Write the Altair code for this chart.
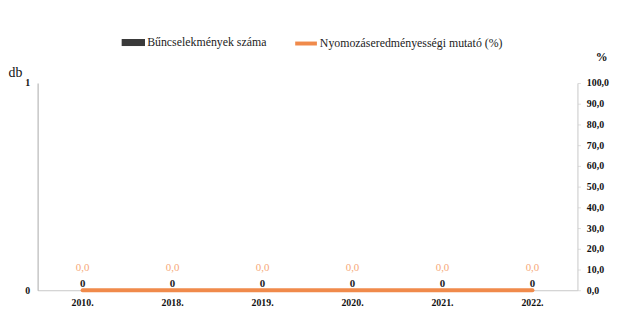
import altair as alt
import pandas as pd

years = ["2010.", "2018.", "2019.", "2020.", "2021.", "2022."]
crimes = [0, 0, 0, 0, 0, 0]
rate = [0.0, 0.0, 0.0, 0.0, 0.0, 0.0]
left_ticks = [0, 1]
right_ticks = [0, 10, 20, 30, 40, 50, 60, 70, 80, 90, 100]

S1 = "Bűncselekmények száma"
S2 = "Nyomozáseredményességi mutató (%)"

df = pd.DataFrame({"year": years, "crimes": crimes, "rate": rate, "s1": S1, "s2": S2})

FONT = "Liberation Serif"
ORANGE = "#F08A4B"
LABEL_ORANGE = "#F6A878"
DARK = "#3a3a3a"

base = alt.Chart(df).encode(
    x=alt.X("year:N", sort=years, title=None,
            scale=alt.Scale(paddingInner=0.3, paddingOuter=0.15),
            axis=alt.Axis(labelAngle=0, ticks=False, labelFontWeight="bold",
                          labelFontSize=10, labelColor="#111", domainColor="#c8c8c8",
                          labelPadding=7))
)

yl = alt.Y("crimes:Q", scale=alt.Scale(domain=[0, 1]),
           axis=alt.Axis(values=left_ticks, format="d", title="db", titleAngle=0,
                         titleX=-30, titleY=-4, titleAlign="left",
                         titleFontSize=14, titleFontWeight="normal", titleColor="#111",
                         labelFontWeight="bold", labelFontSize=10, labelOverlap=False,
                         labelColor="#111", ticks=False, grid=False, domainColor="#aaaaaa",
                         labelPadding=8))

bars = base.mark_bar(size=40).encode(
    y=yl,
    fill=alt.Fill("s1:N", scale=alt.Scale(domain=[S1], range=[DARK]),
                  legend=alt.Legend(title=None, orient="none", legendX=85, legendY=-53,
                                    symbolType="M-1,-0.3L1,-0.3L1,0.3L-1,0.3Z",
                                    symbolSize=560, labelFontSize=12,
                                    labelColor="#222", symbolStrokeWidth=0, labelOffset=2,
                                    labelLimit=0))
)
bar_text = base.mark_text(dy=-6, font=FONT, fontSize=11, fontWeight="bold", color="#222").encode(
    y=yl, text=alt.Text("crimes:Q", format="d")
)

yr = alt.Y("rate:Q", scale=alt.Scale(domain=[0, 100]),
           axis=alt.Axis(orient="right", values=right_ticks, labelOverlap=False,
                         labelExpr="replace(format(datum.value, '.1f'), '.', ',')",
                         title="%", titleAngle=0, titleX=18, titleY=-20, titleAlign="left",
                         titleFontSize=12, titleFontWeight="bold",
                         titleColor="#111", labelFontWeight="bold",
                         labelFontSize=10, labelColor="#111", tickSize=3, tickColor="#ddd",
                         grid=False, domainColor="#c8c8c8", labelPadding=6))

line = base.mark_line(strokeWidth=4, strokeCap="round").encode(
    y=yr,
    stroke=alt.Stroke("s2:N", scale=alt.Scale(domain=[S2], range=[ORANGE]),
                      legend=alt.Legend(title=None, orient="none", legendX=259, legendY=-53,
                                        symbolType="stroke", symbolStrokeWidth=4,
                                        symbolSize=484, labelFontSize=12,
                                        labelColor="#222", labelOffset=1, labelLimit=0))
)
line_text = base.transform_calculate(
    lbl="replace(format(datum.rate, '.1f'), '.', ',')"
).mark_text(dy=-22, font=FONT, fontSize=11, color=LABEL_ORANGE).encode(
    y=yr, text="lbl:N"
)

left = alt.layer(bars, bar_text)
right = alt.layer(line, line_text)

chart = alt.layer(left, right).resolve_scale(
    y="independent", fill="independent", stroke="independent"
).properties(
    width=547, height=210,
    autosize=alt.AutoSizeParams(type="none"),
    padding={"left": 30, "top": 74, "right": 35, "bottom": 16},
).configure(
    font=FONT, background="white"
).configure_axis(
    labelFont=FONT, titleFont=FONT
).configure_legend(
    labelFont=FONT
).configure_view(stroke=None)

chart.save("out.html", embed_options={"renderer": "svg", "actions": False})
